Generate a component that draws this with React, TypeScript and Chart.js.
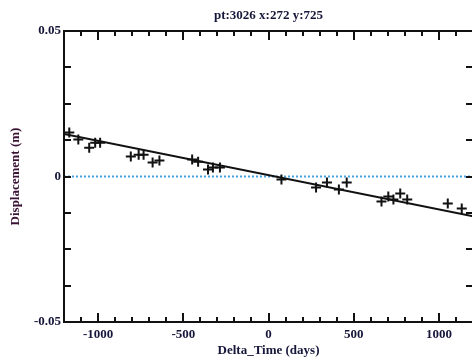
import React, { useEffect, useRef } from "react";
import { Chart, registerables } from "chart.js";

Chart.register(...registerables);

const TITLE = "pt:3026 x:272 y:725";
const X_TITLE = "Delta_Time (days)";
const Y_TITLE = "Displacement (m)";

const X_MIN = -1200;
const X_MAX = 1200;
const Y_MIN = -0.05;
const Y_MAX = 0.05;

const X_LABEL_TICKS = [-1000, -500, 0, 500, 1000];
const X_MINOR_TICKS = [-1100, -900, -800, -700, -600, -400, -300, -200, -100, 100, 200, 300, 400, 600, 700, 800, 900, 1100];
const Y_LABEL_TICKS = [-0.05, 0, 0.05];
const Y_MINOR_TICKS = [-0.0375, -0.025, -0.0125, 0, 0.0125, 0.025, 0.0375];

const DELTA_DAYS = [
  -1169, -1116, -1052, -1017, -988, -808, -762, -733, -680, -640,
  -448, -413, -355, -326, -285, 76, 279, 343, 413, 459,
  663, 703, 733, 773, 814, 1052, 1134,
];
const DISPLACEMENT = [
  0.0151, 0.0127, 0.0099, 0.0116, 0.0116, 0.0069, 0.0075, 0.0075, 0.0048, 0.0055,
  0.0058, 0.0051, 0.0024, 0.0031, 0.0031, -0.001, -0.0038, -0.0021, -0.0045, -0.0021,
  -0.0086, -0.0069, -0.0079, -0.0058, -0.0079, -0.0093, -0.011,
];

const FIT_DAYS = [-1200, 1200];
const FIT_VALUES = [0.0146, -0.0137];

const ZERO_DAYS = [-1200, 1200];
const ZERO_VALUES = [0, 0];

const INK = "#16163a";
const FONT = { family: "'Liberation Serif', 'Times New Roman', serif", size: 13, weight: "bold" as const };

const frameTicksPlugin = {
  id: "frameTicks",
  afterDatasetsDraw(chart: any) {
    const { ctx, chartArea: a, scales } = chart;
    const x = scales.x;
    const y = scales.y;
    ctx.save();
    ctx.strokeStyle = "#111";
    ctx.lineWidth = 2;
    ctx.beginPath();
    const xt = (v: number, len: number) => {
      const px = Math.round(x.getPixelForValue(v));
      ctx.moveTo(px, a.bottom);
      ctx.lineTo(px, a.bottom - len);
      ctx.moveTo(px, a.top);
      ctx.lineTo(px, a.top + len);
    };
    X_LABEL_TICKS.forEach((v) => xt(v, 9));
    X_MINOR_TICKS.forEach((v) => xt(v, 5));
    const yt = (v: number, len: number) => {
      const py = Math.round(y.getPixelForValue(v));
      ctx.moveTo(a.left, py);
      ctx.lineTo(a.left + len, py);
      ctx.moveTo(a.right, py);
      ctx.lineTo(a.right - len, py);
    };
    Y_MINOR_TICKS.forEach((v) => yt(v, 7));
    ctx.stroke();
    ctx.strokeRect(a.left, a.top, a.right - a.left, a.bottom - a.top);
    ctx.restore();
  },
};

export default function App() {
  const ref = useRef<HTMLCanvasElement | null>(null);

  useEffect(() => {
    if (!ref.current) return;
    const points = DELTA_DAYS.map((d, i) => ({ x: d, y: DISPLACEMENT[i] }));
    const fit = FIT_DAYS.map((d, i) => ({ x: d, y: FIT_VALUES[i] }));
    const zero = ZERO_DAYS.map((d, i) => ({ x: d, y: ZERO_VALUES[i] }));
    const chart = new Chart(ref.current, {
      type: "scatter",
      data: {
        datasets: [
          {
            data: points,
            showLine: false,
            pointStyle: "cross",
            pointRadius: 5,
            pointBorderWidth: 2,
            borderColor: "#111",
            backgroundColor: "#111",
          },
          {
            data: fit,
            showLine: true,
            borderColor: "#111",
            borderWidth: 2,
            pointRadius: 0,
          },
          {
            data: zero,
            showLine: true,
            borderColor: "#4aa3df",
            borderWidth: 2,
            borderDash: [2, 2],
            pointRadius: 0,
          },
        ],
      },
      plugins: [frameTicksPlugin],
      options: {
        animation: false,
        responsive: false,
        devicePixelRatio: 1,
        layout: { padding: { left: 0, right: 5, top: 0, bottom: 0 } },
        plugins: {
          legend: { display: false },
          tooltip: { enabled: false },
          title: { display: false },
        },
        scales: {
          x: {
            type: "linear",
            position: "bottom",
            min: X_MIN,
            max: X_MAX,
            afterBuildTicks: (s: any) => {
              s.ticks = X_LABEL_TICKS.map((v) => ({ value: v }));
            },
            afterFit: (s: any) => {
              s.height = 39;
            },
            grid: { display: false, drawTicks: false },
            border: { display: false },
            ticks: {
              font: FONT,
              color: INK,
              padding: 5,
              maxRotation: 0,
              autoSkip: false,
              callback: (v: any) => String(v),
            },
            title: { display: true, text: X_TITLE, font: FONT, color: INK, padding: { top: 0, bottom: 3 } },
          },
          x2: {
            type: "linear",
            position: "top",
            min: X_MIN,
            max: X_MAX,
            afterFit: (s: any) => {
              s.height = 31;
            },
            grid: { display: false, drawTicks: false },
            border: { display: false },
            ticks: { display: false },
            title: { display: true, text: TITLE, font: FONT, color: INK, padding: { top: 8, bottom: 0 } },
          },
          y: {
            type: "linear",
            position: "left",
            min: Y_MIN,
            max: Y_MAX,
            afterBuildTicks: (s: any) => {
              s.ticks = Y_LABEL_TICKS.map((v) => ({ value: v }));
            },
            afterFit: (s: any) => {
              s.width = 64;
            },
            grid: { display: false, drawTicks: false },
            border: { display: false },
            ticks: {
              font: FONT,
              color: INK,
              padding: 3,
              autoSkip: false,
              callback: (v: any) => String(v),
            },
            title: { display: true, text: Y_TITLE, font: FONT, color: "#3a1234", padding: { top: 8, bottom: 0 } },
          },
        },
      },
    });
    return () => chart.destroy();
  }, []);

  return (
    <div style={{ position: "fixed", left: 0, top: 0, width: 472, height: 361, overflow: "hidden", background: "#fff" }}>
      <canvas ref={ref} width={480} height={361} style={{ display: "block", width: 480, height: 361 }} />
    </div>
  );
}
